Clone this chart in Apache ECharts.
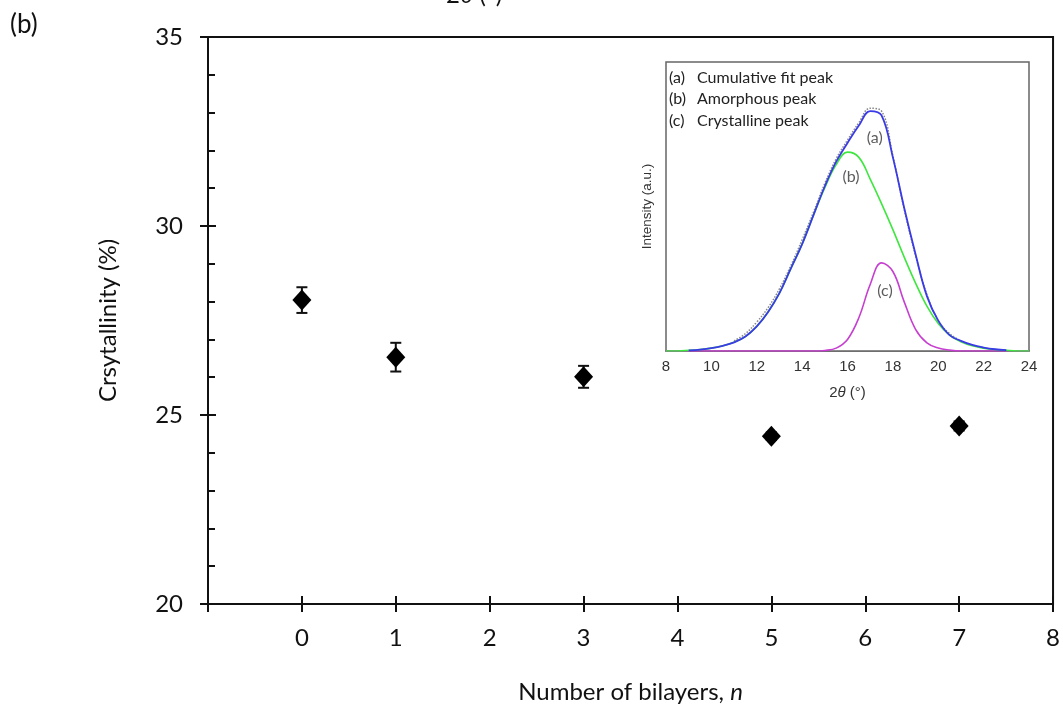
<!DOCTYPE html>
<html>
<head>
<meta charset="utf-8">
<script src="https://cdn.jsdelivr.net/npm/echarts@6/dist/echarts.min.js"></script>
<style>
  html, body { margin: 0; padding: 0; background: #fff; }
  #chart { width: 1063px; height: 716px; }
</style>
</head>
<body>
<div id="chart"></div>
<script>
// main panel: crystallinity vs number of bilayers
var bilayers = [0, 1, 3, 5, 7];
var crystallinity = [28.04, 26.53, 26.01, 24.44, 24.71];
var crystErr = [0.34, 0.38, 0.29, 0.10, 0.12];
var xTicks = [-1, 0, 1, 2, 3, 4, 5, 6, 7, 8];
var yTicks = [20, 25, 30, 35];

// inset: XRD peak fitting
var twoTheta = [8, 8.5, 9, 9.5, 10, 10.5, 11, 11.5, 12, 12.5, 13, 13.5, 14, 14.5, 15, 15.5,
    16, 16.5, 17, 17.5, 18, 18.5, 19, 19.5, 20, 20.5, 21, 21.5, 22, 22.5, 23, 23.5, 24];
var fitPeak = [null, null, 0.2, 0.5, 1.0, 1.8, 3.0, 5.0, 8.5, 13.5, 20, 28.5, 37, 47, 57, 65.5,
    72, 78, 83, 81.5, 67, 49.5, 33.5, 19, 10.5, 5.5, 3.5, 2.1, 1.2, 0.6, 0.3, null, null];
var amorphousPeak = [0, 0, 0.2, 0.5, 1.0, 1.8, 3.0, 5.0, 8.5, 13.5, 20, 28.5, 37, 47, 56.5, 64.5,
    68.8, 67, 59.5, 51, 42, 32.5, 23.5, 15.5, 9.5, 5.5, 3.2, 1.8, 1.0, 0.5, 0.2, 0, 0];
var crystallinePeak = [0, 0, 0, 0, 0, 0, 0, 0, 0, 0, 0, 0, 0, 0, 0.2, 1.0,
    4.0, 11.5, 23, 30.5, 27.5, 17, 7.5, 2.8, 1.0, 0.3, 0, 0, 0, 0, 0, 0, 0];
var rawTheta = [11, 11.5, 12, 12.5, 13, 13.5, 14, 14.5, 15, 15.5, 16, 16.5, 17, 17.5, 18, 18.5, 19, 19.5, 20, 20.5, 21];
var rawIntensity = [3.5, 6, 10, 15, 21.5, 29.5, 38.5, 48, 58, 66.5, 73, 79, 84, 83, 67.5, 49, 33, 19.5, 10.5, 6, 3.5];
var legendTags = ['(a)', '(b)', '(c)'];
var legendNames = ['Cumulative fit peak', 'Amorphous peak', 'Crystalline peak'];
var tagTheta = [17.2, 16.15, 17.65];
var tagIntensity = [73.7, 60.2, 20.8];

var FONT = 'Lato, "Open Sans", sans-serif';
var INSET_FONT = '"Liberation Sans", Arial, sans-serif';

function pairs(xs, ys) {
    var out = [];
    for (var i = 0; i < xs.length; i++) {
        if (ys[i] != null) {
            out.push([xs[i], ys[i]]);
        }
    }
    return out;
}

var chart = echarts.init(document.getElementById('chart'), null, { renderer: 'canvas' });

var mainAxisLine = { show: true, onZero: false, lineStyle: { color: '#111', width: 2 } };

var option = {
    backgroundColor: '#fff',
    animation: false,
    textStyle: { fontFamily: FONT },
    grid: [{
        left: 208, right: 8, top: 37, bottom: 112,
        show: true, borderColor: '#111', borderWidth: 2
    }, {
        left: 666, right: 34, top: 62, bottom: 365,
        show: true, borderColor: '#666', borderWidth: 1.5, backgroundColor: '#fff', z: 5
    }],
    xAxis: [{
        type: 'value', gridIndex: 0, position: 'bottom',
        min: xTicks[0], max: xTicks[xTicks.length - 1], interval: 1,
        axisLine: mainAxisLine,
        axisTick: { show: true, inside: false, length: 8, lineStyle: { color: '#111', width: 2 } },
        axisLabel: {
            margin: 22, fontSize: 24, color: '#111', fontFamily: FONT,
            formatter: function(v) { return v < 0 ? '' : String(v); }
        },
        splitLine: { show: false },
        name: 'Number of bilayers, {i|n}',
        nameLocation: 'middle', nameGap: 76,
        nameTextStyle: {
            fontSize: 24, color: '#111', fontFamily: FONT,
            rich: { i: { fontStyle: 'italic', fontSize: 24, color: '#111', fontFamily: FONT } }
        }
    }, {
        // second copy of the bottom axis, for the inner half of the crossing ticks
        type: 'value', gridIndex: 0, position: 'bottom', offset: 0,
        min: xTicks[0], max: xTicks[xTicks.length - 1], interval: 1,
        axisLine: { show: false, onZero: false },
        axisTick: { show: true, inside: true, length: 8, lineStyle: { color: '#111', width: 2 } },
        axisLabel: { show: false },
        splitLine: { show: false }
    }, {
        type: 'value', gridIndex: 1, position: 'bottom',
        min: 8, max: 24, interval: 2,
        axisLine: { show: true, onZero: false, lineStyle: { color: '#666', width: 1.5 } },
        axisTick: { show: false },
        axisLabel: { margin: 8, fontSize: 15, color: '#333', fontFamily: INSET_FONT },
        splitLine: { show: false },
        name: '2{i|θ} (°)',
        nameLocation: 'middle', nameGap: 34,
        nameTextStyle: {
            fontSize: 15, color: '#333', fontFamily: INSET_FONT,
            rich: { i: { fontStyle: 'italic', fontSize: 15, color: '#333', fontFamily: INSET_FONT } }
        }
    }],
    yAxis: [{
        type: 'value', gridIndex: 0, position: 'left',
        min: yTicks[0], max: yTicks[yTicks.length - 1], interval: 5,
        axisLine: mainAxisLine,
        axisTick: { show: true, inside: false, length: 8, lineStyle: { color: '#111', width: 2 } },
        axisLabel: { margin: 25, fontSize: 24, color: '#111', fontFamily: FONT },
        splitLine: { show: false },
        name: 'Crsytallinity (%)',
        nameLocation: 'middle', nameGap: 88,
        nameTextStyle: { fontSize: 24, color: '#111', fontFamily: FONT }
    }, {
        // inner major ticks plus minor ticks on the left axis
        type: 'value', gridIndex: 0, position: 'left', offset: 0,
        min: yTicks[0], max: yTicks[yTicks.length - 1], interval: 5,
        axisLine: { show: false, onZero: false },
        axisTick: { show: true, inside: true, length: 8, lineStyle: { color: '#111', width: 2 } },
        minorTick: { show: true, splitNumber: 5, length: 7, lineStyle: { color: '#111', width: 2 } },
        axisLabel: { show: false },
        splitLine: { show: false }
    }, {
        type: 'value', gridIndex: 1, position: 'left',
        min: 0, max: 100,
        axisLine: { show: false, onZero: false },
        axisTick: { show: false },
        axisLabel: { show: false },
        splitLine: { show: false },
        name: 'Intensity (a.u.)',
        nameLocation: 'middle', nameGap: 12,
        nameTextStyle: { fontSize: 13.5, color: '#333', fontFamily: INSET_FONT }
    }],
    series: [{
        name: 'error',
        type: 'custom',
        xAxisIndex: 0, yAxisIndex: 0,
        data: bilayers.map(function(n, i) { return [n, crystallinity[i], crystErr[i]]; }),
        renderItem: function(params, api) {
            var x = api.value(0), y = api.value(1), e = api.value(2);
            var top = api.coord([x, y + e]);
            var bot = api.coord([x, y - e]);
            var style = { stroke: '#111', lineWidth: 2 };
            return {
                type: 'group',
                children: [
                    { type: 'line', shape: { x1: top[0], y1: top[1], x2: bot[0], y2: bot[1] }, style: style },
                    { type: 'line', shape: { x1: top[0] - 5.5, y1: top[1], x2: top[0] + 5.5, y2: top[1] }, style: style },
                    { type: 'line', shape: { x1: bot[0] - 5.5, y1: bot[1], x2: bot[0] + 5.5, y2: bot[1] }, style: style }
                ]
            };
        },
        z: 2
    }, {
        name: 'Crystallinity',
        type: 'scatter',
        xAxisIndex: 0, yAxisIndex: 0,
        symbol: 'diamond',
        symbolSize: [19, 21],
        itemStyle: { color: '#000', opacity: 1 },
        data: bilayers.map(function(n, i) { return [n, crystallinity[i]]; }),
        z: 3
    }, {
        name: 'raw',
        type: 'line',
        xAxisIndex: 2, yAxisIndex: 2,
        smooth: 0.4, symbol: 'none',
        lineStyle: { color: '#888', width: 1.5, type: 'dotted' },
        data: pairs(rawTheta, rawIntensity),
        z: 6
    }, {
        name: 'Crystalline peak',
        type: 'line',
        xAxisIndex: 2, yAxisIndex: 2,
        smooth: 0.4, symbol: 'none',
        lineStyle: { color: '#c63fd0', width: 1.6 },
        data: pairs(twoTheta, crystallinePeak),
        z: 7
    }, {
        name: 'Amorphous peak',
        type: 'line',
        xAxisIndex: 2, yAxisIndex: 2,
        smooth: 0.4, symbol: 'none',
        lineStyle: { color: '#3fe63f', width: 1.6 },
        data: pairs(twoTheta, amorphousPeak),
        z: 7
    }, {
        name: 'Cumulative fit peak',
        type: 'line',
        xAxisIndex: 2, yAxisIndex: 2,
        smooth: 0.4, symbol: 'none',
        lineStyle: { color: '#3a3ae6', width: 1.8 },
        data: pairs(twoTheta, fitPeak),
        z: 8
    }, {
        name: 'tags',
        type: 'scatter',
        xAxisIndex: 2, yAxisIndex: 2,
        symbolSize: 0,
        label: {
            show: true, position: 'inside', fontSize: 16, color: '#333', fontFamily: FONT,
            formatter: function(p) { return legendTags[p.dataIndex]; }
        },
        data: pairs(tagTheta, tagIntensity),
        z: 9
    }],
    graphic: [{
        type: 'text', left: 10, top: 12, z: 10,
        style: { text: '(b)', font: '26px ' + FONT, fill: '#111' }
    }, {
        type: 'text', left: 446, top: -17, z: 10,
        style: {
            text: '2{i|θ} (°)', font: '24px ' + FONT, fill: '#111',
            rich: { i: { fontStyle: 'italic', fontSize: 24, fontFamily: FONT } }
        }
    }, {
        type: 'text', left: 669, top: 67, z: 10,
        style: { text: legendTags.join('\n'), font: '16px ' + FONT, fill: '#222', lineHeight: 21.5 }
    }, {
        type: 'text', left: 697, top: 67, z: 10,
        style: { text: legendNames.join('\n'), font: '16px ' + FONT, fill: '#222', lineHeight: 21.5 }
    }]
};

chart.setOption(option);
</script>
</body>
</html>
